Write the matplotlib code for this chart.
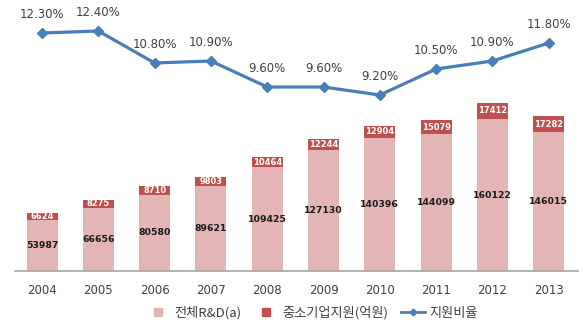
import numpy as np
import matplotlib.pyplot as plt
from matplotlib.lines import Line2D

plt.rcParams['font.family'] = ['Noto Sans CJK KR', 'DejaVu Sans']

# ── Data ────────────────────────────────────────────────────────
years       = ['2004', '2005', '2006', '2007', '2008',
               '2009', '2010', '2011', '2012', '2013']
total_rnd   = [53987, 66656, 80580, 89621, 109425,
               127130, 140396, 144099, 160122, 146015]
sme_support = [6624, 8275, 8710, 9803, 10464,
               12244, 12904, 15079, 17412, 17282]
ratio_pct   = [12.3, 12.4, 10.8, 10.9, 9.6,
               9.6, 9.2, 10.5, 10.9, 11.8]

# ── Style ───────────────────────────────────────────────────────
pink  = '#E3B5B4'
red   = '#C0504D'
blue  = '#4A7EBB'
grey  = '#404040'

W, H = 588, 328
fig = plt.figure(figsize=(W / 100, H / 100), dpi=100)
ax = fig.add_axes([15 / W, (H - 271) / H, (578 - 15) / W, (271 - 10) / H])

x = np.arange(len(years))
bw = 0.55

ax.bar(x, total_rnd, width=bw, color=pink, zorder=2)
ax.bar(x, sme_support, width=bw, bottom=total_rnd, color=red, zorder=2)

for xi, a, b in zip(x, total_rnd, sme_support):
    ax.text(xi, a / 2, f'{a}', ha='center', va='center',
            fontsize=6.7, fontweight='bold', color='#1a1a1a',
            family='DejaVu Sans')
    ax.text(xi, a + b / 2, f'{b}', ha='center', va='center',
            fontsize=6, fontweight='bold', color='white',
            family='DejaVu Sans')

ax.set_xlim(-0.48, 9.52)
ax.set_ylim(0, 275000)
ax.set_yticks([])
ax.set_xticks(x)
ax.set_xticklabels(years, fontsize=8.5, color=grey, family='DejaVu Sans')
ax.tick_params(axis='x', length=0, pad=9)
for s in ['top', 'left', 'right']:
    ax.spines[s].set_visible(False)
ax.spines['bottom'].set_color('#A6A6A6')
ax.spines['bottom'].set_linewidth(1.2)

# ── Secondary axis: ratio line ──────────────────────────────────
ax2 = ax.twinx()
ax2.plot(x, ratio_pct, color=blue, linewidth=2.3, marker='D',
         markersize=5, zorder=3)
for xi, v in zip(x, ratio_pct):
    ax2.annotate(f'{v:.2f}%', (xi, v), xytext=(0, 13),
                 textcoords='offset points', ha='center', va='center',
                 fontsize=8.5, color=grey, family='DejaVu Sans')
ax2.set_ylim(0.4, 13.45)
ax2.set_yticks([])
for s in ax2.spines.values():
    s.set_visible(False)

# ── Legend ──────────────────────────────────────────────────────
handles = [
    Line2D([], [], color=pink, marker='s', linestyle='none', markersize=6,
           label='전체R&D(a)'),
    Line2D([], [], color=red, marker='s', linestyle='none', markersize=6,
           label='중소기업지원(억원)'),
    Line2D([], [], color=blue, linewidth=2, marker='D', markersize=3.5,
           label='지원비율'),
]
leg = fig.legend(handles=handles, loc='center',
                 bbox_to_anchor=(312 / W, (H - 313) / H),
                 ncol=3, frameon=False, fontsize=9.5, handlelength=1.8,
                 columnspacing=1.0, handletextpad=0.3)
for t in leg.get_texts():
    t.set_color(grey)

fig.savefig('out.png', dpi=100)
